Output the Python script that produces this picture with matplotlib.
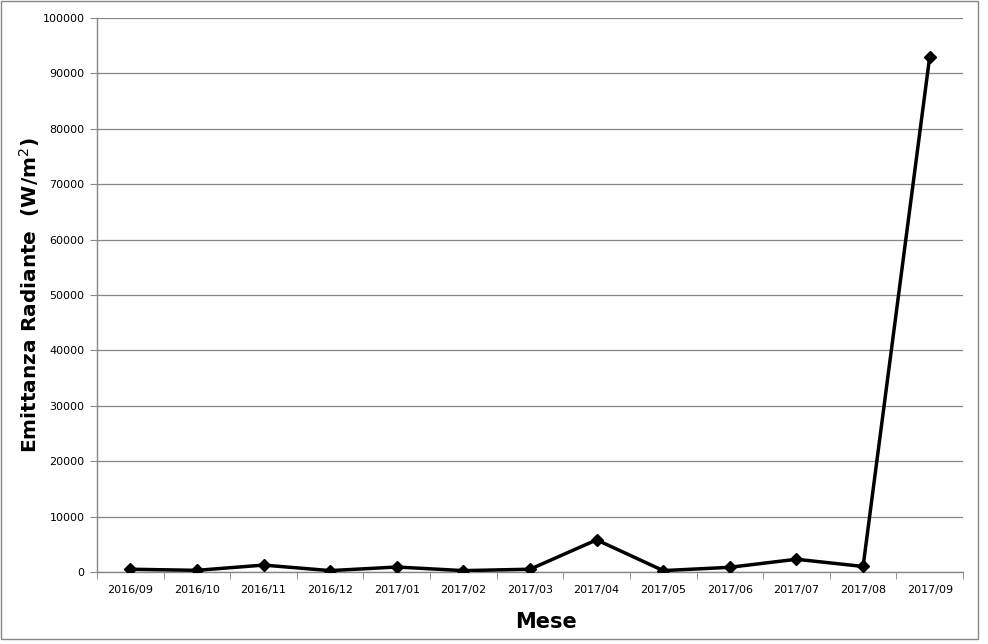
import matplotlib
matplotlib.use("Agg")
import matplotlib.pyplot as plt
from matplotlib.patches import Rectangle

months = ["2016/09", "2016/10", "2016/11", "2016/12", "2017/01", "2017/02", "2017/03",
          "2017/04", "2017/05", "2017/06", "2017/07", "2017/08", "2017/09"]
values = [500, 300, 1250, 250, 900, 250, 500, 5800, 250, 850, 2300, 1000, 93000]
yticks = list(range(0, 100001, 10000))

fig = plt.figure(figsize=(9.88, 6.44), dpi=100)
W, H = 988, 644
ax = fig.add_axes([97 / W, 1 - 572 / H, (963 - 97) / W, (572 - 18) / H])

grey = "#868686"
x = list(range(len(months)))
ax.plot(x, values, color="black", lw=2.5, marker="D", ms=6, zorder=3)

ax.set_xlim(-0.5, len(months) - 0.5)
ax.set_ylim(0, 100000)
ax.set_yticks(yticks)
ax.set_yticklabels([str(v) for v in yticks], fontsize=8)
ax.set_xticks(x)
ax.set_xticklabels(months, fontsize=8)
ax.set_xticks([i - 0.5 for i in range(len(months) + 1)], minor=True)
ax.tick_params(axis="x", which="major", length=0, pad=9)
ax.tick_params(axis="x", which="minor", length=5, color=grey, direction="out")
ax.tick_params(axis="y", length=5, color=grey, direction="out", pad=4)
ax.grid(axis="y", color=grey, lw=0.9)
ax.set_axisbelow(True)
for s in ["top", "right"]:
    ax.spines[s].set_visible(False)
for s in ["left", "bottom"]:
    ax.spines[s].set_color(grey)
    ax.spines[s].set_linewidth(1)

ax.set_ylabel("Emittanza Radiante  (W/m$^2$)", fontsize=14.5, fontweight="bold", va="center")
ax.yaxis.set_label_coords((30 - 97) / 866, (572 - 295) / 554)
ax.set_xlabel("Mese", fontsize=15, fontweight="bold", va="center")
ax.xaxis.set_label_coords((546 - 97) / 866, (572 - 622) / 554)

fig.patches.append(Rectangle((1 / W, 1 - 639 / H), 977 / W, 638 / H, transform=fig.transFigure,
                             fill=False, edgecolor=grey, lw=1))

fig.savefig("out.png", dpi=100)
